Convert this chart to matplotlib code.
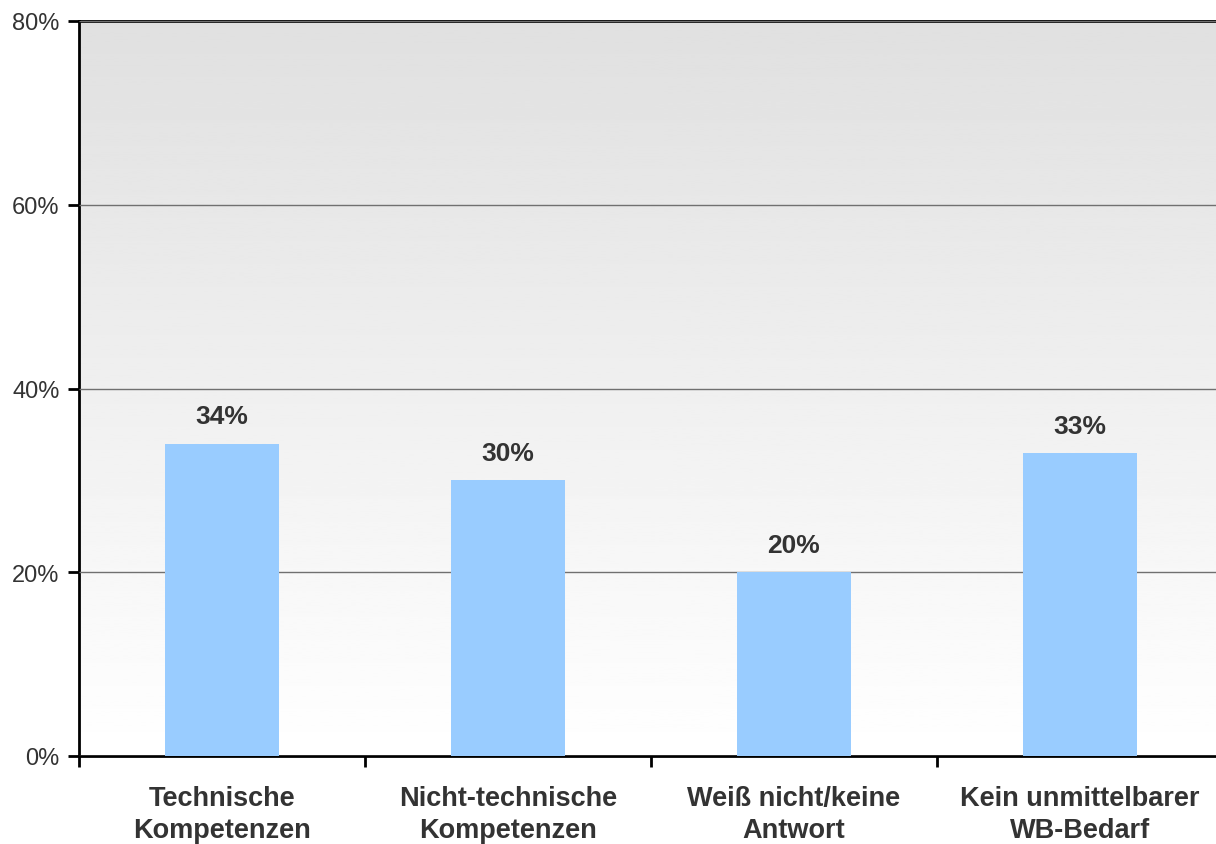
import numpy as np
import matplotlib.pyplot as plt
from matplotlib.ticker import FixedLocator

plt.rcParams['font.family'] = ['Liberation Sans', 'DejaVu Sans']

categories = ['Technische\nKompetenzen', 'Nicht-technische\nKompetenzen',
              'Weiß nicht/keine\nAntwort', 'Kein unmittelbarer\nWB-Bedarf']
values = [34, 30, 20, 33]
yticks = [0, 20, 40, 60, 80]

fig = plt.figure(figsize=(12.16, 8.45), dpi=100)
ax = fig.add_axes([79 / 1216, 88 / 845, 1144 / 1216, 735 / 845])

# background gradient: grey at the top, white at the bottom
grad = np.linspace(1.0, 0.878, 256).reshape(-1, 1)
ax.imshow(grad, cmap='gray', vmin=0, vmax=1, aspect='auto',
          extent=[0, 1, 0, 1], transform=ax.transAxes, origin='lower', zorder=0)

x = np.arange(len(categories))
ax.bar(x, values, width=0.4, color='#99ccff', zorder=3)

for xi, v in zip(x, values):
    ax.annotate(f'{v}%', (xi, v), xytext=(0, 11), textcoords='offset points',
                ha='center', va='bottom', fontsize=19, fontweight='bold',
                color='#333333', zorder=4)

ax.set_xlim(-0.5, len(categories) - 0.5)
ax.set_ylim(0, 80)
ax.set_yticks(yticks)
ax.set_yticklabels([f'{t}%' for t in yticks], fontsize=17, color='#333333')
ax.yaxis.grid(True, color='#707070', linewidth=1, zorder=1)
ax.set_axisbelow(False)

ax.set_xticks(x)
ax.set_xticklabels(categories, fontsize=19.5, fontweight='bold', color='#333333',
                   linespacing=1.3)
ax.tick_params(axis='x', which='major', length=0, pad=21)
ax.xaxis.set_minor_locator(FixedLocator(np.arange(len(categories)) - 0.5))
ax.tick_params(axis='x', which='minor', length=8, width=2, direction='out')
ax.tick_params(axis='y', length=8, width=2, direction='out', pad=6)

for side in ['left', 'bottom', 'top']:
    ax.spines[side].set_linewidth(2)
    ax.spines[side].set_color('black')
ax.spines['right'].set_visible(False)

for gl in ax.get_ygridlines():
    gl.set_zorder(1)

plt.savefig('out.png', dpi=100)
